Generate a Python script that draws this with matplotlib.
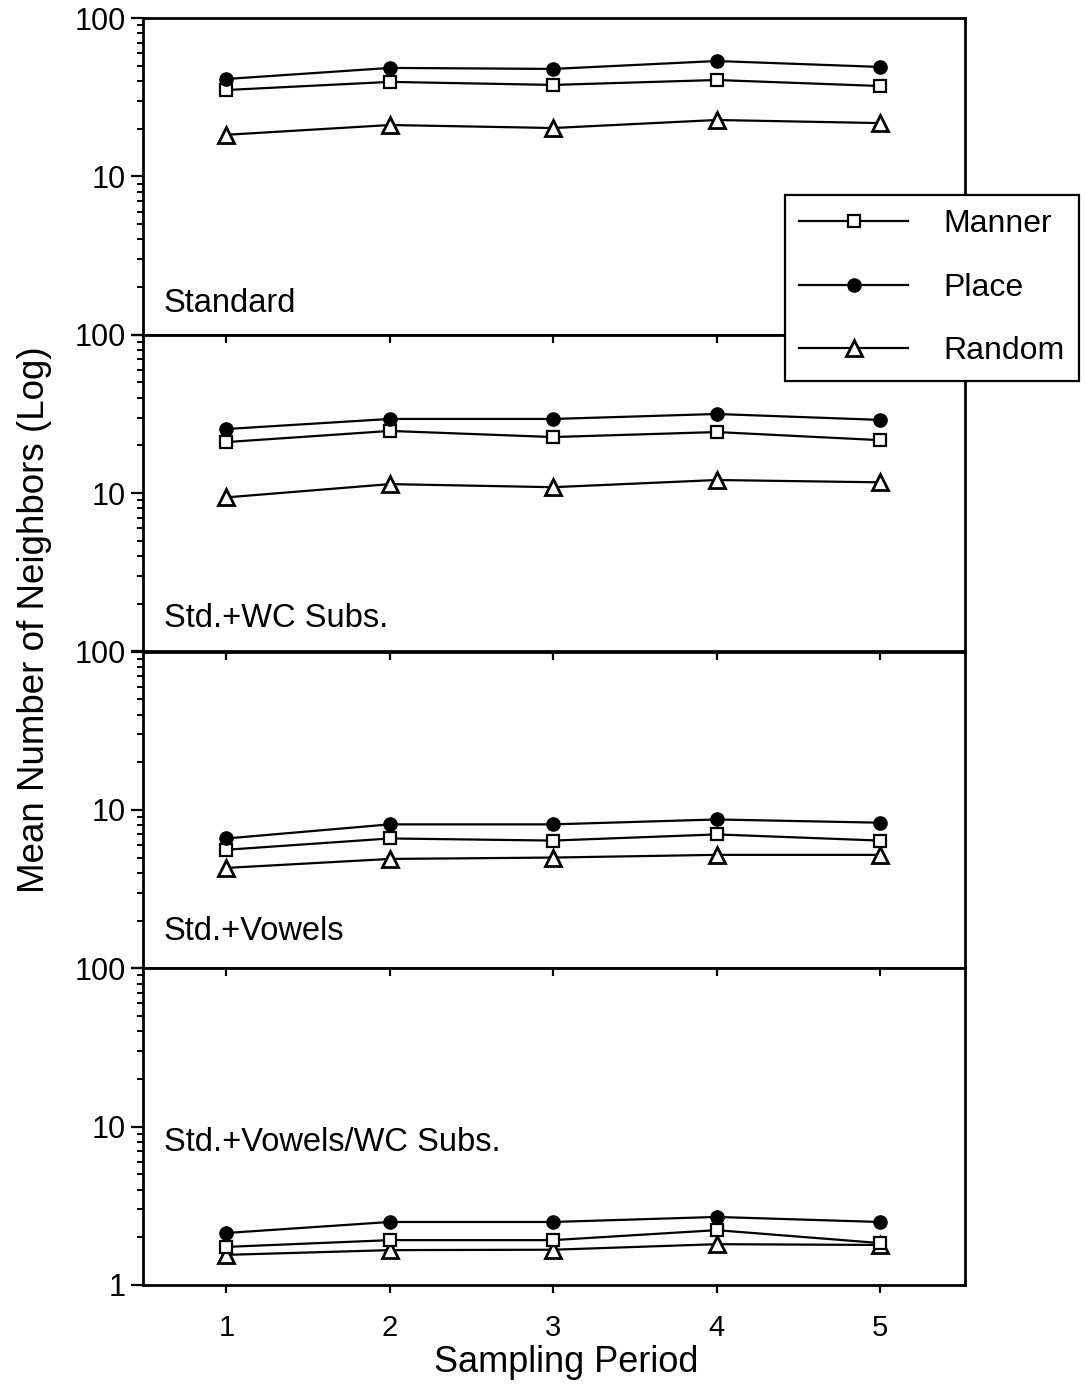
import matplotlib
matplotlib.use('Agg')
import matplotlib.pyplot as plt
from matplotlib.ticker import LogLocator, NullFormatter, FixedLocator, FixedFormatter
from matplotlib.lines import Line2D

plt.rcParams['font.family'] = ['Liberation Sans', 'DejaVu Sans']

periods = [1, 2, 3, 4, 5]
panel_names = ["Standard", "Std.+WC Subs.", "Std.+Vowels", "Std.+Vowels/WC Subs."]
manner = [
    [35.1, 39.5, 37.8, 40.6, 37.2],
    [21.0, 24.7, 22.6, 24.3, 21.6],
    [5.6, 6.6, 6.4, 7.0, 6.4],
    [1.74, 1.92, 1.92, 2.22, 1.84],
]
place = [
    [41.2, 48.4, 47.7, 53.5, 49.1],
    [25.4, 29.4, 29.4, 31.6, 29.0],
    [6.6, 8.1, 8.1, 8.7, 8.3],
    [2.13, 2.50, 2.50, 2.69, 2.50],
]
random_ = [
    [18.3, 21.1, 20.2, 22.7, 21.7],
    [9.4, 11.4, 10.9, 12.1, 11.7],
    [4.3, 4.9, 5.0, 5.2, 5.2],
    [1.55, 1.66, 1.67, 1.81, 1.79],
]
series_names = ["Manner", "Place", "Random"]
xlabel = "Sampling Period"
ylabel = "Mean Number of Neighbors (Log)"

W, H = 1085, 1384
fig = plt.figure(figsize=(W / 100, H / 100), dpi=100)

left = 143 / W
width = (965 - 143) / W
bottom0 = 1 - 1285 / H
ph = (1285 - 18) / H / 4

lw = 1.6
styles = [
    dict(marker='s', markersize=8.5, markerfacecolor='white', markeredgecolor='black', markeredgewidth=1.6),
    dict(marker='o', markersize=9.5, markerfacecolor='black', markeredgecolor='black', markeredgewidth=1.0),
    dict(marker='^', markersize=12, markerfacecolor='white', markeredgecolor='black', markeredgewidth=2.0),
]
label_pos = [0.10, 0.105, 0.117, 0.45]

for i in range(4):
    ax = fig.add_axes([left, bottom0 + (3 - i) * ph, width, ph])
    for data, st in zip([random_, manner, place], [styles[2], styles[0], styles[1]]):
        ax.plot(periods, data[i], color='black', linewidth=lw, **st)
    ax.set_yscale('log')
    ax.set_ylim(1, 100)
    ax.set_xlim(0.49, 5.52)
    for sp in ax.spines.values():
        sp.set_linewidth(2.0)
    ax.yaxis.set_major_locator(FixedLocator([1, 10, 100]))
    if i == 3:
        ax.yaxis.set_major_formatter(FixedFormatter(['1', '10', '100']))
    else:
        ax.yaxis.set_major_formatter(FixedFormatter(['', '10', '100']))
    ax.yaxis.set_minor_locator(LogLocator(base=10, subs=range(2, 10)))
    ax.yaxis.set_minor_formatter(NullFormatter())
    ax.set_xticks(periods)
    if i == 3:
        ax.set_xticklabels([str(p) for p in periods])
    else:
        ax.set_xticklabels([])
    ax.tick_params(axis='y', which='major', direction='out', length=8.5, width=1.6, labelsize=22, pad=4)
    ax.tick_params(axis='y', which='minor', direction='out', length=4.5, width=1.4)
    ax.tick_params(axis='x', which='major', direction='out', length=6, width=1.6, labelsize=21, pad=15,
                   bottom=(i == 3), top=(i > 0))
    if i > 0:
        ax.tick_params(axis='x', which='major', top=True, labeltop=False)
        for t in ax.xaxis.get_major_ticks():
            t.tick2line.set_marker(3)  # tick pointing down (inward at top)
            t.tick2line.set_markersize(6)
    ax.text(0.025, label_pos[i], panel_names[i], transform=ax.transAxes,
            fontsize=23.5, ha='left', va='center')

fig.text(35 / W, 1 - 620 / H, ylabel, rotation=90, fontsize=26.5, ha='center', va='center')
fig.text(566 / W, 1 - 1363 / H, xlabel, fontsize=26, ha='center', va='center')

handles = [Line2D([], [], color='black', linewidth=lw, **st) for st in styles]
leg = fig.legend(handles, series_names, loc='upper left',
                 bbox_to_anchor=(785 / W, 1 - 195 / H), frameon=True, fancybox=False,
                 edgecolor='black', framealpha=1, fontsize=23, borderpad=0.45,
                 handlelength=3.4, handletextpad=1.1, labelspacing=1.05, borderaxespad=0)
leg.get_frame().set_linewidth(1.6)

fig.savefig('out.png', dpi=100)
